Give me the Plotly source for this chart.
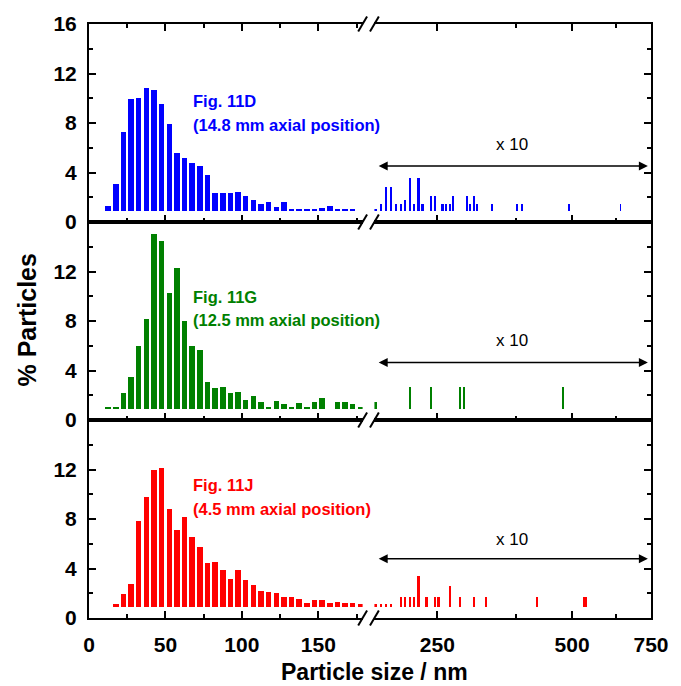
import math
import plotly.graph_objects as go

# ---------------- data ----------------
# Below the axis break: 5 nm bins (bin centres, nm) and % particles
blue_lo_x = [12.5, 17.5, 22.5, 27.5, 32.5, 37.5, 42.5, 47.5, 52.5, 57.5, 62.5,
             67.5, 72.5, 77.5, 82.5, 87.5, 92.5, 97.5, 102.5, 107.5, 112.5,
             117.5, 122.5, 127.5, 132.5, 137.5, 142.5, 147.5, 152.5, 157.5,
             162.5, 167.5, 172.5]
blue_lo_y = [1.33, 3.08, 7.28, 9.98, 10.04, 10.84, 10.63, 9.5, 7.9, 5.54, 5.16,
             4.76, 4.52, 3.8, 2.38, 2.38, 2.38, 2.46, 2.09, 1.74, 1.47,
             1.65, 1.25, 1.65, 1.05, 1.05, 1.05, 1.05, 1.1, 1.33,
             1.05, 1.05, 1.05]

green_lo_x = [12.5, 17.5, 22.5, 27.5, 32.5, 37.5, 42.5, 47.5, 52.5, 57.5, 62.5,
              67.5, 72.5, 77.5, 82.5, 87.5, 92.5, 97.5, 102.5, 107.5, 112.5,
              117.5, 122.5, 127.5, 132.5, 137.5, 142.5, 147.5, 152.5,
              162.5, 167.5, 172.5, 177.5]
green_lo_y = [1.05, 1.05, 2.15, 3.44, 6.0, 8.2, 15.0, 14.47, 10.24, 12.26, 8.0,
              6.0, 5.65, 3.04, 2.56, 2.69, 2.18, 2.29, 1.61, 1.97, 1.43,
              1.05, 1.56, 1.29, 1.05, 1.35, 1.05, 1.43, 1.75,
              1.43, 1.43, 1.29, 1.05]

red_lo_x = [17.5, 22.5, 27.5, 32.5, 37.5, 42.5, 47.5, 52.5, 57.5, 62.5,
            67.5, 72.5, 77.5, 82.5, 87.5, 92.5, 97.5, 102.5, 107.5, 112.5,
            117.5, 122.5, 127.5, 132.5, 137.5, 142.5, 147.5, 152.5, 157.5,
            162.5, 167.5, 172.5, 177.5]
red_lo_y = [1.1, 1.97, 2.72, 7.86, 9.76, 11.96, 12.09, 8.8, 7.08, 8.15,
            6.52, 5.72, 4.41, 4.54, 3.85, 3.17, 3.85, 3.04, 2.67, 2.18,
            2.1, 2.05, 1.73, 1.7, 1.52, 1.25, 1.47, 1.47, 1.25,
            1.33, 1.25, 1.25, 1.1]

# Above the axis break (log scale, values shown x 10)
blue_hi_x = [182.5, 187.5, 192.5, 197.5, 202.5, 207.5, 212.5, 217.5, 222.5,
             227.5, 232.5, 242.5, 247.5, 257.5, 262.5, 267.5, 272.5, 292.5,
             297.5, 302.5, 307.5, 332.5, 377.5, 387.5, 492.5, 642.5]
blue_hi_y = [1.05, 1.47, 2.8, 2.8, 1.47, 1.47, 1.74, 3.53, 1.47,
             3.53, 1.47, 2.14, 2.14, 1.47, 1.47, 1.47, 2.14, 2.14,
             1.47, 2.14, 1.47, 1.47, 1.47, 1.47, 1.47, 1.47]

green_hi_x = [182.5, 217.5, 242.5, 282.5, 287.5, 477.5]
green_hi_y = [1.43, 2.69, 2.69, 2.69, 2.69, 2.69]

red_hi_x = [182.5, 187.5, 192.5, 197.5, 207.5, 212.5, 217.5, 222.5, 227.5,
            237.5, 247.5, 252.5, 267.5, 282.5, 302.5, 322.5, 417.5, 532.5, 537.5]
red_hi_y = [1.1, 1.1, 1.1, 1.1, 1.73, 1.73, 1.73, 1.73, 3.39,
            1.73, 1.73, 1.73, 2.59, 1.73, 1.73, 1.73, 1.73, 1.73, 1.73]

panel_labels = [("Fig. 11D", "(14.8 mm axial position)"),
                ("Fig. 11G", "(12.5 mm axial position)"),
                ("Fig. 11J", "(4.5 mm axial position)")]
panel_colors = ["#0000FF", "#008000", "#FF0000"]

x_lo_ticks = [0, 50, 100, 150]
x_hi_ticks = [250, 500, 750]
x_hi_minor = [375, 625]

# ---------------- styling ----------------
FONT = "Liberation Sans, Arial, sans-serif"
BAR_BASE = 0.9
W, H = 681, 686
ML, MR, MT, MB = 89, 21, 19, 68
PW, PH = W - ML - MR, H - MT - MB
LO_END = (367 - ML) / PW
HI_START = (379 - ML) / PW
LO_RANGE = [0, 179]
HI_RANGE = [math.log10(750) - 281 / 455, math.log10(750)]

series = [
    (blue_lo_x, blue_lo_y, blue_hi_x, blue_hi_y),
    (green_lo_x, green_lo_y, green_hi_x, green_hi_y),
    (red_lo_x, red_lo_y, red_hi_x, red_hi_y),
]

fig = go.Figure()
row_domains = [[2 / 3, 1], [1 / 3, 2 / 3], [0, 1 / 3]]

axis_common = dict(showline=True, linecolor="black", linewidth=2,
                   ticks="inside", tickcolor="black", tickwidth=2, ticklen=7,
                   showgrid=False, zeroline=False,
                   tickfont=dict(family=FONT, size=21, color="black", weight="bold"))

layout_axes = {}
for r in range(3):
    lo_idx = 2 * r + 1
    hi_idx = 2 * r + 2
    xs_lo, ys_lo, xs_hi, ys_hi = series[r]
    col = panel_colors[r]
    sfx_lo = "" if lo_idx == 1 else str(lo_idx)
    sfx_hi = str(hi_idx)

    fig.add_trace(go.Bar(
        x=xs_lo, y=[v - BAR_BASE for v in ys_lo], base=BAR_BASE, width=3.6,
        marker=dict(color=col, line=dict(width=0)),
        xaxis="x" + sfx_lo, yaxis="y" + sfx_lo, showlegend=False))
    fig.add_trace(go.Bar(
        x=xs_hi, y=[v - BAR_BASE for v in ys_hi], base=BAR_BASE, width=2.3,
        marker=dict(color=col, line=dict(width=0)),
        xaxis="x" + sfx_hi, yaxis="y" + sfx_hi, showlegend=False))

    bottom = (r == 2)
    top = (r == 0)
    mirror_x = "ticks" if top else True
    ytickvals = [0, 4, 8, 12, 16] if top else [0, 4, 8, 12]

    layout_axes["xaxis" + sfx_lo] = dict(
        axis_common, domain=[0, LO_END], range=LO_RANGE, anchor="y" + sfx_lo,
        tickvals=x_lo_ticks, showticklabels=bottom, mirror=mirror_x,
        minor=dict(ticks="inside", dtick=25, tick0=0, ticklen=4,
                   tickwidth=2, tickcolor="black"),
        ticklabelstandoff=7)
    layout_axes["xaxis" + sfx_hi] = dict(
        axis_common, domain=[HI_START, 1], type="log", range=HI_RANGE,
        anchor="y" + sfx_hi, tickvals=x_hi_ticks,
        ticktext=[str(v) for v in x_hi_ticks],
        showticklabels=bottom, mirror=mirror_x,
        minor=dict(ticks="inside", tickvals=x_hi_minor, ticklen=4,
                   tickwidth=2, tickcolor="black"),
        ticklabelstandoff=7)
    layout_axes["yaxis" + sfx_lo] = dict(
        axis_common, domain=row_domains[r], range=[0, 16], anchor="x" + sfx_lo,
        side="left", tickvals=ytickvals,
        minor=dict(ticks="inside", tickvals=[2, 6, 10, 14], ticklen=4,
                   tickwidth=2, tickcolor="black"),
        ticklabelstandoff=6)
    layout_axes["yaxis" + sfx_hi] = dict(
        axis_common, domain=row_domains[r], range=[0, 16], anchor="x" + sfx_hi,
        side="right", tickvals=[0, 4, 8, 12, 16], showticklabels=False,
        minor=dict(ticks="inside", tickvals=[2, 6, 10, 14], ticklen=4,
                   tickwidth=2, tickcolor="black"))

annotations = []
label_pos = [(9.75, 7.85), (9.9, 8.05), (10.75, 8.8)]
arrow_y = [4.52, 4.65, 4.78]
text_y = [6.3, 6.4, 6.34]
for r in range(3):
    lo_idx = 2 * r + 1
    hi_idx = 2 * r + 2
    sfx_lo = "" if lo_idx == 1 else str(lo_idx)
    sfx_hi = str(hi_idx)
    l1, l2 = panel_labels[r]
    for txt, yy in zip((l1, l2), label_pos[r]):
        annotations.append(dict(
            text=txt, x=67.0, y=yy, xref="x" + sfx_lo, yref="y" + sfx_lo,
            xanchor="left", yanchor="middle", showarrow=False,
            font=dict(family=FONT, size=16.5, color=panel_colors[r], weight="bold")))
    # double-headed arrow spanning the magnified range
    annotations.append(dict(
        text="", x=math.log10(738), y=arrow_y[r], ax=math.log10(183.5), ay=arrow_y[r],
        xref="x" + sfx_hi, yref="y" + sfx_hi, axref="x" + sfx_hi, ayref="y" + sfx_hi,
        showarrow=True, arrowhead=2, arrowside="end+start", arrowsize=1.2,
        arrowwidth=1.5, arrowcolor="black"))
    annotations.append(dict(
        text="x 10", x=math.log10(367), y=text_y[r],
        xref="x" + sfx_hi, yref="y" + sfx_hi, showarrow=False,
        xanchor="center", yanchor="middle",
        font=dict(family=FONT, size=17, color="black")))

annotations.append(dict(
    text="% Particles", x=(25 - ML) / PW, y=(H - MB - 318) / PH,
    xref="paper", yref="paper", textangle=-90, showarrow=False,
    xanchor="center", yanchor="middle", borderpad=0,
    font=dict(family=FONT, size=25, color="black", weight="bold")))
annotations.append(dict(
    text="Particle size / nm", x=(379 - ML) / PW, y=(H - MB - 672) / PH,
    xref="paper", yref="paper", showarrow=False,
    xanchor="center", yanchor="middle", borderpad=0,
    font=dict(family=FONT, size=23, color="black", weight="bold")))

# axis-break marks "//" on every horizontal axis line
shapes = []
dx, dy = 4.5 / PW, 7.5 / PH
for cy in [0, 1 / 3, 2 / 3, 1]:
    for cx in [LO_END, HI_START]:
        shapes.append(dict(type="line", xref="paper", yref="paper",
                           x0=cx - dx, y0=cy - dy, x1=cx + dx, y1=cy + dy,
                           line=dict(color="black", width=2)))

fig.update_layout(
    width=W, height=H, autosize=False,
    margin=dict(l=ML, r=MR, t=MT, b=MB),
    paper_bgcolor="white", plot_bgcolor="white",
    bargap=0, annotations=annotations, shapes=shapes,
    font=dict(family=FONT),
    **layout_axes)

fig.write_html("out.html")
